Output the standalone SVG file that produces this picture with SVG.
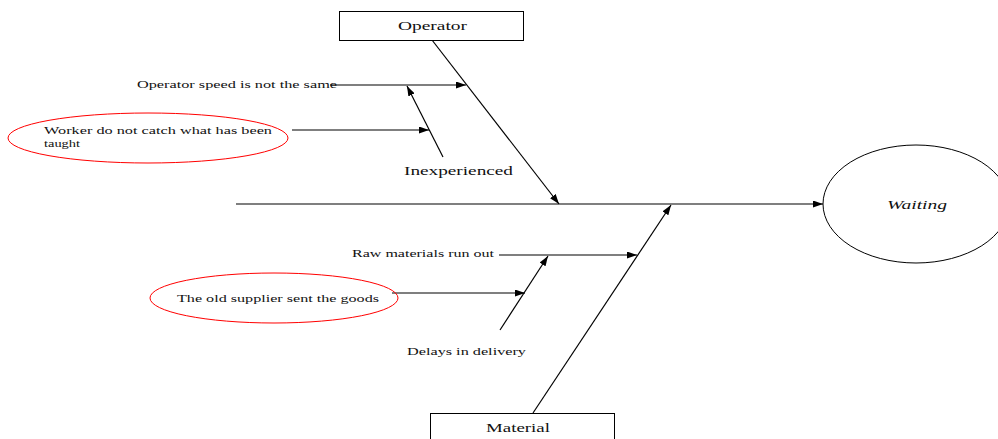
<svg xmlns="http://www.w3.org/2000/svg" width="998" height="439" viewBox="0 0 998 439">
  <style>
    .box { fill: #ffffff; stroke: #000000; stroke-width: 1; }
    .cause { fill: none; stroke: #ff0000; stroke-width: 1; }
    .effect { fill: #ffffff; stroke: #000000; stroke-width: 1; }
    .edge { fill: none; stroke: #000000; stroke-width: 1.2; }
    .lbl { font-family: 'Liberation Serif', 'DejaVu Serif', serif; fill: #111111; }
    .big { font-size: 13.5px; }
    .small { font-size: 11px; }
  </style>
  <defs>
    <marker id="arrow" viewBox="0 0 10 7" refX="10" refY="3.5" markerWidth="10" markerHeight="7" markerUnits="userSpaceOnUse" orient="auto">
      <path d="M0,0 L10,3.5 L0,7 Z" fill="#000000"/>
    </marker>
  </defs>

  <!-- connectors -->
  <g id="edges">
    <path class="edge" d="M236,204 L823,204" marker-end="url(#arrow)"/>
    <path class="edge" d="M432,40 L559,204" marker-end="url(#arrow)"/>
    <path class="edge" d="M533,413 L671,205" marker-end="url(#arrow)"/>
    <path class="edge" d="M330,85 L466,85" marker-end="url(#arrow)"/>
    <path class="edge" d="M443,157 L407,86" marker-end="url(#arrow)"/>
    <path class="edge" d="M292,130 L429,130" marker-end="url(#arrow)"/>
    <path class="edge" d="M499,255 L637,255" marker-end="url(#arrow)"/>
    <path class="edge" d="M500,330 L548,256" marker-end="url(#arrow)"/>
    <path class="edge" d="M392,293 L525,293" marker-end="url(#arrow)"/>
  </g>

  <g font-family="Liberation Serif, DejaVu Serif, serif">
    <!-- category boxes -->
    <g id="operator">
      <rect class="box" x="339.5" y="11.5" width="184" height="29"/>
      <text class="lbl big" x="398" y="30" textLength="69" lengthAdjust="spacingAndGlyphs">Operator</text>
    </g>
    <g id="material">
      <rect class="box" x="430.5" y="413.5" width="184" height="30"/>
      <text class="lbl big" x="486" y="432" textLength="64" lengthAdjust="spacingAndGlyphs">Material</text>
    </g>

    <!-- effect -->
    <g id="waiting">
      <ellipse class="effect" cx="916" cy="204" rx="93" ry="59"/>
      <text class="lbl big" x="887" y="209" font-style="italic" textLength="60" lengthAdjust="spacingAndGlyphs">Waiting</text>
    </g>

    <!-- causes -->
    <g id="operator-speed">
      <text class="lbl small" x="137" y="88" textLength="200" lengthAdjust="spacingAndGlyphs">Operator speed is not the same</text>
    </g>
    <g id="inexperienced">
      <text class="lbl big" x="404" y="175" textLength="109" lengthAdjust="spacingAndGlyphs">Inexperienced</text>
    </g>
    <g id="worker">
      <ellipse class="cause" cx="148" cy="138" rx="140" ry="25"/>
      <text class="lbl small" x="44" y="134" textLength="228" lengthAdjust="spacingAndGlyphs">Worker do not catch what has been</text>
      <text class="lbl small" x="44" y="147" textLength="36" lengthAdjust="spacingAndGlyphs">taught</text>
    </g>
    <g id="raw-materials">
      <text class="lbl small" x="352" y="257" textLength="142" lengthAdjust="spacingAndGlyphs">Raw materials run out</text>
    </g>
    <g id="delays">
      <text class="lbl small" x="407" y="355" textLength="119" lengthAdjust="spacingAndGlyphs">Delays in delivery</text>
    </g>
    <g id="old-supplier">
      <ellipse class="cause" cx="274" cy="298" rx="124" ry="25"/>
      <text class="lbl small" x="177" y="302" textLength="202" lengthAdjust="spacingAndGlyphs">The old supplier sent the goods</text>
    </g>
  </g>
</svg>
